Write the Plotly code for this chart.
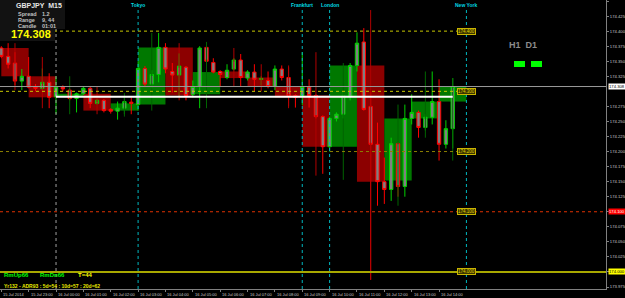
import plotly.graph_objects as go
import pandas as pd

# ---------------- data ----------------
m15_start = "2014-07-15 22:00"
m15_open = [174.372, 174.358, 174.347, 174.317, 174.325, 174.308, 174.305, 174.315,
            174.291, 174.307, 174.302, 174.288, 174.296, 174.305, 174.280, 174.285,
            174.270, 174.267, 174.272, 174.282, 174.278, 174.338, 174.312, 174.328,
            174.373, 174.333, 174.327, 174.340, 174.295, 174.308, 174.373, 174.348,
            174.333, 174.323, 174.337, 174.352, 174.322, 174.332, 174.320, 174.318,
            174.308, 174.337, 174.323, 174.293, 174.293, 174.307, 174.293, 174.258,
            174.208, 174.255, 174.262, 174.292, 174.343, 174.382, 174.275, 174.212,
            174.150, 174.137, 174.213, 174.142, 174.255, 174.265, 174.240, 174.257,
            174.283, 174.212, 174.238]
m15_high = [174.375, 174.380, 174.365, 174.337, 174.357, 174.312, 174.338, 174.330,
            174.325, 174.310, 174.305, 174.298, 174.308, 174.308, 174.287, 174.287,
            174.272, 174.283, 174.290, 174.290, 174.350, 174.342, 174.335, 174.397,
            174.380, 174.347, 174.363, 174.342, 174.318, 174.375, 174.382, 174.355,
            174.335, 174.345, 174.355, 174.362, 174.335, 174.345, 174.325, 174.333,
            174.343, 174.343, 174.340, 174.295, 174.365, 174.320, 174.295, 174.260,
            174.258, 174.265, 174.300, 174.347, 174.398, 174.405, 174.300, 174.248,
            174.190, 174.223, 174.215, 174.278, 174.295, 174.268, 174.262, 174.333,
            174.320, 174.252, 174.322]
m15_low = [174.355, 174.338, 174.310, 174.302, 174.305, 174.300, 174.302, 174.272,
           174.262, 174.300, 174.285, 174.265, 174.294, 174.272, 174.278, 174.265,
           174.263, 174.253, 174.262, 174.262, 174.268, 174.307, 174.305, 174.315,
           174.330, 174.298, 174.292, 174.285, 174.290, 174.272, 174.347, 174.330,
           174.308, 174.320, 174.335, 174.308, 174.318, 174.300, 174.310, 174.305,
           174.302, 174.318, 174.275, 174.273, 174.277, 174.273, 174.255, 174.163,
           174.200, 174.250, 174.255, 174.285, 174.333, 174.268, 173.987, 174.110,
           174.113, 174.118, 174.125, 174.125, 174.245, 174.223, 174.235, 174.245,
           174.185, 174.205, 174.205]
m15_close = [174.358, 174.345, 174.317, 174.325, 174.307, 174.305, 174.315, 174.290,
             174.307, 174.304, 174.288, 174.296, 174.305, 174.280, 174.285, 174.268,
             174.267, 174.272, 174.283, 174.280, 174.338, 174.312, 174.328, 174.373,
             174.337, 174.327, 174.342, 174.293, 174.308, 174.372, 174.350, 174.332,
             174.328, 174.335, 174.352, 174.323, 174.332, 174.320, 174.321, 174.308,
             174.337, 174.323, 174.293, 174.290, 174.308, 174.293, 174.258, 174.208,
             174.255, 174.262, 174.292, 174.343, 174.380, 174.270, 174.212, 174.150,
             174.137, 174.213, 174.142, 174.255, 174.265, 174.240, 174.257, 174.283,
             174.212, 174.238, 174.308]

h1_start = "2014-07-15 22:00"
h1_open = [174.372, 174.325, 174.291, 174.296, 174.268, 174.278, 174.373, 174.295, 174.333,
           174.323, 174.308, 174.293, 174.208, 174.343, 174.152, 174.255, 174.283]
h1_high = [174.380, 174.357, 174.325, 174.308, 174.297, 174.397, 174.380, 174.382, 174.372,
           174.345, 174.343, 174.365, 174.347, 174.435, 174.278, 174.333, 174.322]
h1_low = [174.302, 174.272, 174.262, 174.262, 174.258, 174.268, 174.285, 174.272, 174.308,
          174.300, 174.272, 174.160, 174.153, 173.987, 174.110, 174.223, 174.185]
h1_close = [174.325, 174.290, 174.296, 174.268, 174.280, 174.373, 174.293, 174.332, 174.322,
            174.308, 174.290, 174.208, 174.343, 174.150, 174.255, 174.283, 174.308]

level_prices = [174.400, 174.300, 174.200, 174.100, 174.000]
level_labels = ["174.400", "174.300", "174.200", "174.100", "174.000"]
bid_price = 174.308
bid_label = "174.308"
day_open_price = 174.291
day_open_time = "2014-07-16 00:00"

price_ticks = [173.975, 174.000, 174.025, 174.050, 174.075, 174.100, 174.125, 174.150,
               174.175, 174.200, 174.225, 174.250, 174.275, 174.325, 174.350,
               174.375, 174.400, 174.425, 174.450]
price_tick_labels = [f"{v:.3f}" for v in price_ticks]

session_names = ["Tokyo", "Frankfurt", "London", "New York"]
session_times = ["2014-07-16 03:00", "2014-07-16 09:00", "2014-07-16 10:00", "2014-07-16 15:00"]

time_tick_times = ["2014-07-15 22:00", "2014-07-15 23:00"] + [f"2014-07-16 {h:02d}:00" for h in range(15)]
time_tick_labels = ["15 Jul 2014", "15 Jul 23:00"] + [f"16 Jul {h:02d}:00" for h in range(15)]

panel_symbol = "GBPJPY  M15"
panel_rows = [("Spread", "1.2"), ("Range", "9, 44"), ("Candle", "01:01")]
panel_price = "174.308"
bottom_texts = [("RmUp66", "#00ff00"), ("RmDn66", "#00ff00"), ("T=44", "#ffff00")]
adr_text = "Yr132 - ADR93 : 5d=54 : 10d=57 : 20d=62"
tf_labels = "H1  D1"

# ---------------- layout helpers ----------------
W, H = 625, 298
PW, PH = 606, 289
FONT = "Liberation Sans"


def xp(px):
    return px / PW


def yp(py):
    return 1 - py / PH


m15_t = pd.date_range(m15_start, periods=len(m15_open), freq="15min")
h1_t = pd.date_range(h1_start, periods=len(h1_open), freq="h")
h1_mid = h1_t + pd.Timedelta(minutes=30)

fig = go.Figure()

# H1 boxes
box_base = [min(o, c) for o, c in zip(h1_open, h1_close)]
box_h = [abs(c - o) for o, c in zip(h1_open, h1_close)]
box_col = ["#007800" if c >= o else "#8c0000" for o, c in zip(h1_open, h1_close)]
fig.add_trace(go.Bar(x=h1_mid, y=box_h, base=box_base, width=3600000,
                     marker=dict(color=box_col, line=dict(width=0)), hoverinfo="skip"))

# H1 wicks
for bull, col in [(True, "#006400"), (False, "#b00000")]:
    wx, wy = [], []
    for t, o, hi, lo, c in zip(h1_mid, h1_open, h1_high, h1_low, h1_close):
        if (c >= o) == bull:
            wx += [t, t, None]
            wy += [lo, hi, None]
    fig.add_trace(go.Scatter(x=wx, y=wy, mode="lines", line=dict(color=col, width=1),
                             hoverinfo="skip"))

# M15 candles
fig.add_trace(go.Candlestick(
    x=m15_t, open=m15_open, high=m15_high, low=m15_low, close=m15_close,
    increasing=dict(line=dict(color="#00d000", width=1), fillcolor="#808080"),
    decreasing=dict(line=dict(color="#ff0000", width=1), fillcolor="#808080"),
    whiskerwidth=0, hoverinfo="skip"))

shapes = []
annots = []

# day separator
shapes.append(dict(type="line", xref="x", yref="paper", x0=day_open_time, x1=day_open_time,
                   y0=0, y1=1, line=dict(color="#a0a0a0", width=1, dash="dot"), layer="above"))
# sessions
for name, t in zip(session_names, session_times):
    shapes.append(dict(type="line", xref="x", yref="paper", x0=t, x1=t, y0=0, y1=yp(8),
                       line=dict(color="#00b8c0", width=1, dash="dot"), layer="above"))
    annots.append(dict(x=t, xref="x", y=yp(5), yref="paper", text=f"<b>{name}</b>",
                       showarrow=False, font=dict(family=FONT, size=5, color="#00d8e0"),
                       xanchor="center", yanchor="middle"))

# pivot levels
lvl_styles = [
    dict(color="#c8c800", dash="dot", width=1, full=False),
    dict(color="#c8c800", dash="dot", width=1, full=False),
    dict(color="#8c8000", dash="dot", width=1, full=False),
    dict(color="#e03000", dash="dot", width=1, full=True),
    dict(color="#a8a800", dash="solid", width=2, full=True),
]
for price, lab, st in zip(level_prices, level_labels, lvl_styles):
    shapes.append(dict(type="line", xref="paper", yref="y", x0=0,
                       x1=1 if st["full"] else xp(458), y0=price, y1=price,
                       line=dict(color=st["color"], width=st["width"], dash=st["dash"]),
                       layer="above"))
    annots.append(dict(x=xp(457), xref="paper", y=price, yref="y", text=lab, showarrow=False,
                       xanchor="left", yanchor="middle",
                       font=dict(family=FONT, size=4.5, color="#e0d000"),
                       bgcolor="#3a3500", bordercolor="#c8b400", borderwidth=1, borderpad=0))

# bid line
shapes.append(dict(type="line", xref="paper", yref="y", x0=0, x1=1, y0=bid_price, y1=bid_price,
                   line=dict(color="#9a9a9a", width=1), layer="above"))
# daily open line
shapes.append(dict(type="line", xref="x", yref="y", x0=day_open_time, x1=m15_t[-1],
                   y0=day_open_price, y1=day_open_price,
                   line=dict(color="#ffffff", width=2), layer="above"))

# right-axis highlighted labels
for price, lab, bg, fg in [(bid_price, bid_label, "#ffffff", "#000000"),
                           (level_prices[3], level_labels[3], "#ff0000", "#ffffff"),
                           (level_prices[4], level_labels[4], "#ffff00", "#000000")]:
    annots.append(dict(x=1, xref="paper", y=price, yref="y", text=lab, showarrow=False,
                       xanchor="left", yanchor="middle", xshift=2,
                       font=dict(family=FONT, size=4.2, color=fg), bgcolor=bg, borderpad=0))

# bottom time labels
for t, lab in zip(time_tick_times, time_tick_labels):
    annots.append(dict(x=t, xref="x", y=0, yref="paper", text=lab, showarrow=False,
                       xanchor="left", yanchor="top", yshift=-1,
                       font=dict(family=FONT, size=4, color="#c8c8c8")))

# info panel
shapes.append(dict(type="rect", xref="paper", yref="paper", x0=0, x1=xp(65), y0=yp(29), y1=1,
                   fillcolor="#121212", line=dict(width=0), layer="above"))
shapes.append(dict(type="rect", xref="paper", yref="paper", x0=0, x1=xp(55), y0=yp(41), y1=yp(29),
                   fillcolor="#121212", line=dict(width=0), layer="above"))
annots.append(dict(x=xp(14), xref="paper", y=yp(6), yref="paper", text=f"<b>{panel_symbol}</b>",
                   showarrow=False, xanchor="left", yanchor="middle",
                   font=dict(family=FONT, size=7, color="#e6e6e6")))
for k, (a, b) in enumerate(panel_rows):
    yy = yp(13.5 + k * 6.5)
    annots.append(dict(x=xp(16), xref="paper", y=yy, yref="paper", text=f"<b>{a}</b>",
                       showarrow=False, xanchor="left", yanchor="middle",
                       font=dict(family=FONT, size=5.5, color="#c0c0c0")))
    annots.append(dict(x=xp(40), xref="paper", y=yy, yref="paper", text=f"<b>{b}</b>",
                       showarrow=False, xanchor="left", yanchor="middle",
                       font=dict(family=FONT, size=5.5, color="#c0c0c0")))
annots.append(dict(x=xp(9), xref="paper", y=yp(34), yref="paper", text=f"<b>{panel_price}</b>",
                   showarrow=False, xanchor="left", yanchor="middle",
                   font=dict(family=FONT, size=11, color="#ffff00")))

# H1 D1 indicator
annots.append(dict(x=xp(522.5), xref="paper", y=yp(44.5), yref="paper", text=f"<b>{tf_labels}</b>",
                   showarrow=False, xanchor="center", yanchor="middle",
                   font=dict(family=FONT, size=9, color="#8c8c8c")))
for x0 in (514, 531):
    shapes.append(dict(type="rect", xref="paper", yref="paper", x0=xp(x0), x1=xp(x0 + 11),
                       y0=yp(67), y1=yp(61), fillcolor="#00ff00", line=dict(width=0), layer="above"))

# bottom-left texts
for (txt, col), x0 in zip(bottom_texts, (2, 38, 76)):
    annots.append(dict(x=xp(x0), xref="paper", y=yp(275), yref="paper", text=f"<b>{txt}</b>",
                       showarrow=False, xanchor="left", yanchor="middle",
                       font=dict(family=FONT, size=6, color=col)))
annots.append(dict(x=xp(2), xref="paper", y=yp(285.5), yref="paper", text=f"<b>{adr_text}</b>",
                   showarrow=False, xanchor="left", yanchor="middle",
                   font=dict(family=FONT, size=5, color="#e8e800")))

fig.update_layout(
    width=W, height=H, margin=dict(l=0, r=W - PW, t=0, b=H - PH, pad=0),
    paper_bgcolor="#000000", plot_bgcolor="#000000", showlegend=False,
    barmode="overlay", shapes=shapes, annotations=annots,
    xaxis=dict(type="date", range=["2014-07-15 21:57:09", "2014-07-16 20:06:07"],
               showgrid=False, zeroline=False, showline=True, linecolor="#808080", mirror=True,
               ticks="outside", ticklen=2, tickcolor="#808080", tickvals=time_tick_times,
               showticklabels=False, rangeslider=dict(visible=False), automargin=False),
    yaxis=dict(side="right", range=[173.9717, 174.4517], showgrid=False, zeroline=False,
               showline=True, linecolor="#808080", mirror=True, ticks="outside", ticklen=2,
               tickcolor="#808080", tickvals=price_ticks, ticktext=price_tick_labels,
               ticklabelstandoff=0,
               tickfont=dict(family=FONT, size=4.2, color="#c8c8c8"), automargin=False),
)

fig.write_html("out.html")
